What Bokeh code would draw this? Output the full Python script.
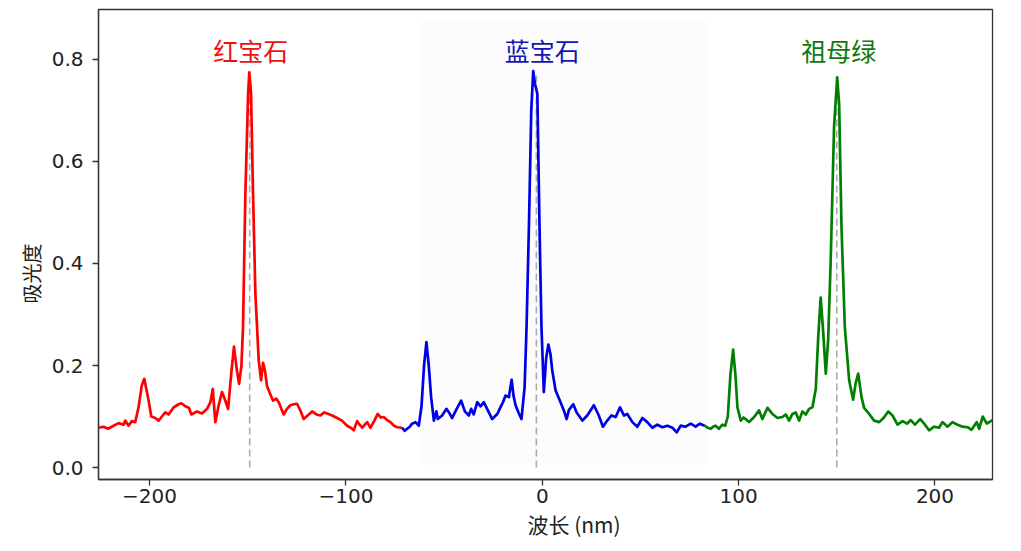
from bokeh.plotting import figure
from bokeh.models import Range1d, FixedTicker, Title, BoxAnnotation, ColumnDataSource
from bokeh.embed import file_html
from bokeh.resources import INLINE
from bokeh.core.properties import value

# ---------------- data ----------------
red_x = [-226, -223.4, -221.2, -218.3, -215.8, -213.2, -212.4, -210.7, -209, -207.3,
         -205.6, -204, -202.7, -200.8, -199.1, -197.1, -195.4, -193.7, -192, -190.3,
         -187.7, -185.2, -183.8, -181.8, -180, -178.7, -175.8, -173.3, -170.7, -169,
         -167.8, -166.5, -164.8, -163.1, -161.4, -160, -158.4, -157, -155.5, -154.4,
         -153.2, -152.4, -151.2, -149.8, -149.2, -148.3, -147.3, -146.1, -144.4, -143.2,
         -142.2, -141.2, -140.2, -139.3, -137.1, -135.5, -134.2, -131.7, -130, -128.3,
         -126.5, -124.9, -123, -121.5, -119.5, -117.2, -115, -113, -111, -109.6,
         -107, -104.5, -102, -99.4, -97.5, -96, -94.3, -93, -91.7, -89.2,
         -87.5, -85.5, -83.8, -82.2, -80.7, -79, -77.3, -75.5, -73.9, -71.4]
red_y = [0.078, 0.080, 0.076, 0.082, 0.087, 0.084, 0.092, 0.082, 0.091, 0.089,
         0.118, 0.160, 0.174, 0.138, 0.100, 0.097, 0.092, 0.100, 0.108, 0.104,
         0.118, 0.124, 0.126, 0.120, 0.117, 0.104, 0.110, 0.106, 0.115, 0.128,
         0.154, 0.089, 0.122, 0.148, 0.131, 0.115, 0.184, 0.237, 0.190, 0.164,
         0.200, 0.275, 0.537, 0.733, 0.775, 0.733, 0.537, 0.341, 0.210, 0.171,
         0.205, 0.190, 0.160, 0.151, 0.131, 0.135, 0.128, 0.104, 0.115, 0.122,
         0.124, 0.125, 0.110, 0.095, 0.102, 0.110, 0.104, 0.102, 0.108, 0.106,
         0.102, 0.097, 0.092, 0.082, 0.078, 0.073, 0.091, 0.084, 0.078, 0.089,
         0.078, 0.092, 0.105, 0.098, 0.099, 0.093, 0.089, 0.082, 0.079, 0.078]

blue_x = [-71.4, -70, -68.8, -67.5, -66.3, -64.6, -62.9, -61.5, -60.2, -59,
          -57.8, -56.6, -55.2, -53.9, -53.2, -51, -48.8, -47.5, -45.9, -44.5,
          -43.3, -41.3, -39.4, -37.4, -36.2, -34.9, -33.1, -31.4, -29.8, -27.7,
          -25.5, -22.9, -21.3, -20, -18.7, -17, -15.6, -14.6, -13.6, -11.9,
          -10.6, -9, -8, -6.8, -5.6, -4.6, -3.7, -2.5, -1.4, -0.4,
          0.8, 2, 3.1, 4.2, 5.1, 6.8, 9, 11, 12.4, 13.6,
          15.8, 17.5, 20.4, 22.9, 26.3, 28.8, 30.9, 33.1, 35.2, 37.4,
          39.6, 41.6, 43.3, 45.9, 48.4, 51, 53.5, 56.1, 58.6, 61.2,
          63.7, 66.3, 68.5, 70.5, 73, 75.6, 78.1, 80.3, 82.7]
blue_y = [0.078, 0.072, 0.076, 0.080, 0.086, 0.089, 0.082, 0.120, 0.200, 0.246,
          0.200, 0.138, 0.092, 0.110, 0.095, 0.102, 0.115, 0.108, 0.097, 0.108,
          0.117, 0.131, 0.110, 0.102, 0.115, 0.104, 0.128, 0.120, 0.128, 0.112,
          0.095, 0.105, 0.118, 0.128, 0.141, 0.138, 0.172, 0.140, 0.122, 0.106,
          0.095, 0.157, 0.275, 0.471, 0.700, 0.777, 0.752, 0.733, 0.471, 0.275,
          0.148, 0.215, 0.241, 0.222, 0.190, 0.151, 0.131, 0.112, 0.095, 0.113,
          0.124, 0.108, 0.092, 0.102, 0.122, 0.102, 0.080, 0.092, 0.102, 0.099,
          0.118, 0.102, 0.105, 0.089, 0.080, 0.097, 0.089, 0.078, 0.084, 0.079,
          0.082, 0.078, 0.069, 0.082, 0.080, 0.086, 0.080, 0.086, 0.082]

green_x = [82.7, 84.2, 85.8, 87, 88.3, 90, 91.7, 93.2, 94.5, 95.8,
           97.2, 98.4, 99.4, 101.1, 102.5, 103.6, 105.3, 107.9, 110.4, 112.1,
           114.7, 117.2, 119.8, 122.3, 124, 125.7, 127.4, 129.1, 130.8, 132.5,
           134.2, 135.9, 137.6, 139.3, 140.6, 141.8, 143, 144.4, 145.6, 146.9,
           148.6, 150.2, 151.2, 152.4, 154.1, 156.3, 158.3, 159.6, 160.9, 162.6,
           163.9, 166.5, 169, 171.6, 173.8, 176.2, 178.4, 180.9, 183.5, 185.7,
           187.7, 189.8, 192.5, 194.5, 197, 199.6, 202.1, 203.8, 206.4, 208.9,
           211.5, 214, 216.6, 218.6, 221.3, 222.5, 224.3, 226.4, 229.3]
green_y = [0.082, 0.078, 0.076, 0.080, 0.082, 0.076, 0.084, 0.082, 0.100, 0.180,
           0.231, 0.180, 0.118, 0.092, 0.098, 0.095, 0.089, 0.099, 0.112, 0.095,
           0.117, 0.105, 0.097, 0.099, 0.104, 0.092, 0.105, 0.108, 0.092, 0.110,
           0.104, 0.115, 0.118, 0.154, 0.260, 0.333, 0.270, 0.184, 0.250, 0.406,
           0.667, 0.765, 0.713, 0.471, 0.275, 0.171, 0.133, 0.165, 0.184, 0.138,
           0.117, 0.105, 0.092, 0.089, 0.097, 0.110, 0.102, 0.084, 0.091, 0.086,
           0.093, 0.084, 0.095, 0.086, 0.073, 0.080, 0.078, 0.089, 0.080, 0.089,
           0.084, 0.080, 0.079, 0.074, 0.089, 0.076, 0.100, 0.086, 0.093]

gem_names = ["红宝石", "蓝宝石", "祖母绿"]
peak_x = [-149, -3, 150]
peak_y = [0.775, 0.777, 0.765]
label_x = [-148.5, 0, 151]
label_y = [0.819, 0.819, 0.819]

xticks = [-200, -100, 0, 100, 200]
xtick_labels = ["−200", "−100", "0", "100", "200"]
yticks = [0.0, 0.2, 0.4, 0.6, 0.8]
ytick_labels = ["0.0", "0.2", "0.4", "0.6", "0.8"]

line_colors = ["#ff0000", "#0000e6", "#008000"]
text_colors = ["#ee1111", "#1414b4", "#0e7a0e"]

# ---------------- figure ----------------
p = figure(width=1013, height=543, output_backend="svg", toolbar_location=None,
           x_range=Range1d(-226, 229.3), y_range=Range1d(-0.0235, 0.898),
           min_border_left=98, min_border_right=21, min_border_top=9,
           min_border_bottom=64, background_fill_color="white",
           border_fill_color="white")
p.xgrid.visible = False
p.ygrid.visible = False
p.outline_line_color = "#333333"
p.outline_line_width = 1.3

p.add_layout(BoxAnnotation(left=-62, right=83.3, bottom=0.006, top=0.875,
                           fill_color="#ececec", fill_alpha=0.18,
                           line_color=None, level="underlay"))

# dashed reference lines at peaks
p.segment(x0=peak_x, y0=[0, 0, 0], x1=peak_x, y1=peak_y, line_color="gray",
          line_alpha=0.65, line_dash="7 4", line_width=1.6)

for xs, ys, c in [(red_x, red_y, line_colors[0]), (blue_x, blue_y, line_colors[1]),
                  (green_x, green_y, line_colors[2])]:
    p.line(xs, ys, line_color=c, line_width=2.7, line_join="round")

src = ColumnDataSource(dict(x=label_x, y=label_y, t=gem_names, c=text_colors))
p.text(x="x", y="y", text="t", text_color="c", source=src, text_align="center",
       text_baseline="middle", text_font=value("Noto Sans CJK SC"),
       text_font_size="25px")

# axes
for ax in (p.xaxis[0], p.yaxis[0]):
    ax.axis_line_color = "#333333"
    ax.axis_line_width = 1.3
    ax.major_tick_line_color = "#333333"
    ax.major_tick_line_width = 1.3
    ax.major_tick_out = 6
    ax.major_tick_in = 0
    ax.minor_tick_line_color = None
    ax.major_label_text_font = "DejaVu Sans"
    ax.major_label_text_font_size = "20px"
    ax.major_label_text_color = "#222222"

p.xaxis.ticker = FixedTicker(ticks=xticks)
p.xaxis.major_label_overrides = dict(zip(xticks, xtick_labels))
p.xaxis.major_label_standoff = 3
p.yaxis.ticker = FixedTicker(ticks=yticks)
p.yaxis.major_label_overrides = dict(zip(yticks, ytick_labels))
p.yaxis.major_label_standoff = 9

p.add_layout(Title(text="波长 (nm)", align="left", offset=429,
                   text_font="Noto Sans CJK SC", text_font_size="21px",
                   text_font_style="normal", text_color="#222222", standoff=2),
             "below")
p.add_layout(Title(text="吸光度", align="left", offset=176,
                   text_font="Noto Sans CJK SC", text_font_size="20px",
                   text_font_style="normal", text_color="#222222", standoff=6),
             "left")

open("out.html", "w").write(file_html(p, INLINE))
